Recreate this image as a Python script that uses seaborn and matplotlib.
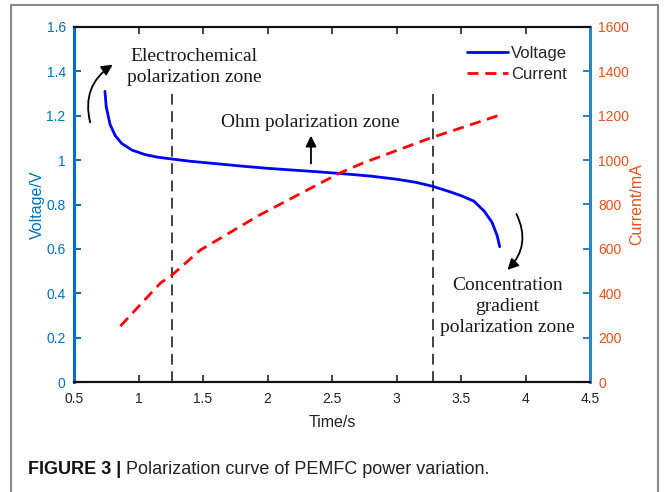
import numpy as np
import pandas as pd
import matplotlib
matplotlib.use("Agg")
import matplotlib.pyplot as plt
import seaborn as sns
from matplotlib.patches import Rectangle
from matplotlib.lines import Line2D

# ---- data ----
volt_time = [0.74, 0.75, 0.78, 0.82, 0.87, 0.95, 1.05, 1.15, 1.26, 1.4, 1.6, 1.8,
             2.0, 2.2, 2.4, 2.6, 2.8, 3.0, 3.15, 3.28, 3.4, 3.5, 3.6, 3.68, 3.74,
             3.78, 3.80]
voltage = [1.31, 1.24, 1.16, 1.11, 1.075, 1.045, 1.025, 1.013, 1.005, 0.995, 0.984,
           0.973, 0.963, 0.955, 0.947, 0.938, 0.928, 0.914, 0.90, 0.882, 0.86, 0.84,
           0.815, 0.77, 0.72, 0.66, 0.61]
curr_time = [0.86, 1.0, 1.17, 1.26, 1.48, 1.94, 2.56, 2.74, 3.26, 3.80]
current = [252, 340, 446, 482, 595, 753, 942, 987, 1099, 1203]
zone_bounds = [1.26, 3.28]
x_ticks = [0.5, 1, 1.5, 2, 2.5, 3, 3.5, 4, 4.5]
x_tick_labels = ["0.5", "1", "1.5", "2", "2.5", "3", "3.5", "4", "4.5"]
v_ticks = [0, 0.2, 0.4, 0.6, 0.8, 1.0, 1.2, 1.4, 1.6]
v_tick_labels = ["0", "0.2", "0.4", "0.6", "0.8", "1", "1.2", "1.4", "1.6"]
i_ticks = [0, 200, 400, 600, 800, 1000, 1200, 1400, 1600]
i_tick_labels = [str(v) for v in i_ticks]
series_labels = ["Voltage", "Current"]
caption_bold = "FIGURE 3 |"
caption_text = " Polarization curve of PEMFC power variation."

sns.set_style("white")
plt.rcParams["font.family"] = ["Liberation Sans", "DejaVu Sans"]

LEFT_C = "#0072BD"
RIGHT_SPINE_C = "#2E86C1"
RIGHT_C = "#E8501A"
SERIF = ["Liberation Serif", "DejaVu Serif"]

fig = plt.figure(figsize=(6.64, 4.92), dpi=100)
ax = fig.add_axes([74 / 664, 110 / 492, 516 / 664, 355 / 492])
ax2 = ax.twinx()

vdf = pd.DataFrame({"t": volt_time, "v": voltage})
cdf = pd.DataFrame({"t": curr_time, "i": current})
sns.lineplot(data=vdf, x="t", y="v", ax=ax, color="#0000FF", lw=2.0, sort=False)
sns.lineplot(data=cdf, x="t", y="i", ax=ax2, color="#FF0000", lw=2.0, sort=False)
ax2.lines[0].set_linestyle((0, (4, 2.4)))

for xb in zone_bounds:
    ax.plot([xb, xb], [0, 1.30], color="#333333", lw=1.3, linestyle=(0, (6, 3.6)), zorder=1)

ax.set_xlim(0.5, 4.5)
ax.set_ylim(0, 1.6)
ax2.set_ylim(0, 1600)
ax.set_xticks(x_ticks)
ax.set_xticklabels(x_tick_labels)
ax.set_yticks(v_ticks)
ax.set_yticklabels(v_tick_labels)
ax2.set_yticks(i_ticks)
ax2.set_yticklabels(i_tick_labels)

ax.set_xlabel("Time/s", fontsize=11.5, color="#222222", labelpad=7)
ax.set_ylabel("Voltage/V", fontsize=11.5, color=LEFT_C, labelpad=1)
ax2.set_ylabel("Current/mA", fontsize=11.5, color=RIGHT_C, labelpad=0)

ax.tick_params(axis="x", direction="in", top=True, bottom=True, length=5, width=1.2,
               labelsize=10, colors="#222222", pad=7)
ax.tick_params(axis="y", direction="in", left=True, length=5, width=1.5,
               labelsize=10, colors=LEFT_C, pad=6)
ax2.tick_params(axis="y", direction="in", right=True, length=5, width=1.5,
                labelsize=10, labelcolor=RIGHT_C, color=RIGHT_SPINE_C, pad=6)
ax2.tick_params(axis="x", top=False, bottom=False)

for a in (ax, ax2):
    a.spines["top"].set_color("#111111")
    a.spines["bottom"].set_color("#111111")
    a.spines["top"].set_linewidth(1.5)
    a.spines["bottom"].set_linewidth(1.5)
ax.spines["left"].set_color(LEFT_C)
ax.spines["left"].set_linewidth(2.2)
ax2.spines["left"].set_visible(False)
ax2.spines["right"].set_color(RIGHT_SPINE_C)
ax2.spines["right"].set_linewidth(2.2)
ax.spines["right"].set_visible(False)

# legend
handles = [Line2D([], [], color="#0000FF", lw=2.0),
           Line2D([], [], color="#FF0000", lw=2.0, linestyle=(0, (4, 2.4)))]
ax2.legend(handles, series_labels, loc="upper right", bbox_to_anchor=(0.968, 0.965),
           frameon=False, fontsize=12, handlelength=2.5, handletextpad=0.15,
           labelspacing=0.35, borderaxespad=0)

# annotations
tc = "#1a1a1a"
ax.text(1.43, 1.42, "Electrochemical\npolarization zone", ha="center", va="center",
        fontsize=14, family=SERIF, color=tc, linespacing=1.3)
ax.text(2.33, 1.17, "Ohm polarization zone", ha="center", va="center",
        fontsize=14, family=SERIF, color=tc)
ax.text(3.86, 0.34, "Concentration\ngradient\npolarization zone", ha="center",
        va="center", fontsize=14, family=SERIF, color=tc, linespacing=1.3)

ap = dict(arrowstyle="-|>", color="black", lw=1.3, mutation_scale=16,
          shrinkA=0, shrinkB=0)
ax.annotate("", xy=(0.80, 1.43), xytext=(0.625, 1.17),
            arrowprops=dict(connectionstyle="arc3,rad=-0.35", **ap))
ax.annotate("", xy=(2.337, 1.11), xytext=(2.337, 0.985),
            arrowprops=dict(connectionstyle="arc3,rad=0", **ap))
ax.annotate("", xy=(3.86, 0.505), xytext=(3.93, 0.757),
            arrowprops=dict(connectionstyle="arc3,rad=-0.35", **ap))

# outer frame and caption
fig.patches.append(Rectangle((11 / 664, -0.05), 647 / 664, 1.05 - 5 / 492,
                             transform=fig.transFigure, fill=False,
                             edgecolor="#8a8a8a", lw=1.5))
cy = 1 - 470 / 492
t1 = fig.text(28 / 664, cy, caption_bold, fontsize=13, fontweight="bold",
              va="center", ha="left", color="#111111")
fig.canvas.draw()
bb = t1.get_window_extent(renderer=fig.canvas.get_renderer())
fig.text(bb.x1 / 664, cy, caption_text, fontsize=13, va="center", ha="left",
         color="#222222")

fig.savefig("out.png", dpi=100)
